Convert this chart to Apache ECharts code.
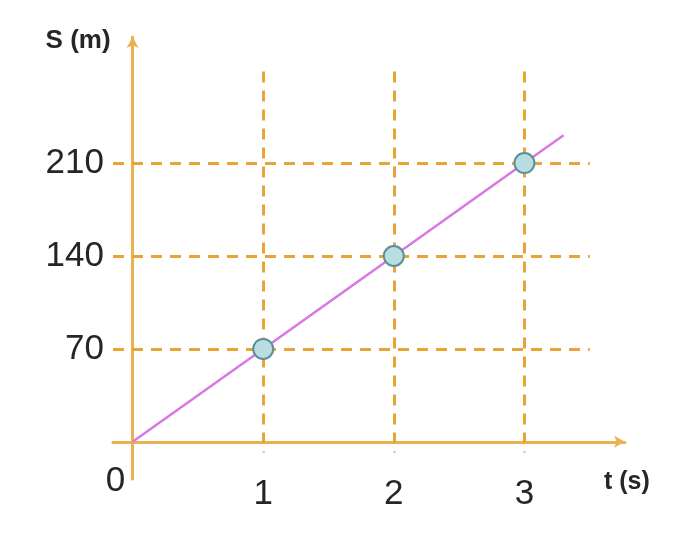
<!DOCTYPE html>
<html>
<head>
<meta charset="utf-8">
<script src="https://cdn.jsdelivr.net/npm/echarts@6/dist/echarts.min.js"></script>
<style>
  html, body { margin: 0; padding: 0; background: #fff; }
  #main { width: 687px; height: 560px; }
</style>
</head>
<body>
<div id="main"></div>
<script>
// data
var times = [1, 2, 3];
var distances = [70, 140, 210];
var lineStart = [0, 0];
var lineEnd = [3.3, 231];
var xTicks = [1, 2, 3];
var yTicks = [70, 140, 210];

var axisColor = '#EAB24F';
var dashColor = '#E8A535';
var textColor = '#262626';
var labelFont = 'Liberation Sans, Arial, sans-serif';

var chart = echarts.init(document.getElementById('main'));

// dashed guide lines through each tick (verticals drawn top-down)
var guides = [];
xTicks.forEach(function (t) {
  guides.push([{ coord: [t, 279] }, { coord: [t, -8] }]);
});
yTicks.forEach(function (s) {
  guides.push([{ coord: [-0.15, s] }, { coord: [3.5, s] }]);
});

var linePts = [lineStart];
times.forEach(function (t, i) { linePts.push([t, distances[i]]); });
linePts.push(lineEnd);

var option = {
  backgroundColor: '#fff',
  animation: false,
  grid: { left: 113, right: 62, top: 37, bottom: 81 },
  xAxis: {
    type: 'value',
    min: -0.15,
    max: 3.77,
    name: 't (s)',
    nameLocation: 'end',
    nameGap: -21,
    nameTextStyle: {
      fontFamily: labelFont, fontSize: 25, fontWeight: 'bold', color: textColor,
      align: 'left', verticalAlign: 'top', padding: [28, 0, 0, 0]
    },
    axisLine: {
      onZero: true,
      symbol: ['none', 'arrow'],
      symbolSize: [9, 11],
      lineStyle: { color: axisColor, width: 3 }
    },
    axisTick: { show: false },
    splitLine: { show: false },
    axisLabel: {
      customValues: xTicks,
      margin: -2,
      fontFamily: labelFont, fontSize: 35, color: textColor
    }
  },
  yAxis: {
    type: 'value',
    min: -28,
    max: 305,
    name: 'S (m)',
    nameLocation: 'end',
    nameGap: -17,
    nameTextStyle: {
      fontFamily: labelFont, fontSize: 26, fontWeight: 'bold', color: textColor,
      align: 'right', verticalAlign: 'bottom', padding: [0, 22, 0, 0]
    },
    axisLine: {
      onZero: true,
      symbol: ['none', 'arrow'],
      symbolSize: [9, 11],
      lineStyle: { color: axisColor, width: 3 }
    },
    axisTick: { show: false },
    splitLine: { show: false },
    axisLabel: {
      customValues: yTicks,
      margin: 9,
      fontFamily: labelFont, fontSize: 35, color: textColor
    }
  },
  series: [
    {
      type: 'line',
      data: [],
      silent: true,
      z: 1,
      markLine: {
        silent: true,
        symbol: ['none', 'none'],
        label: { show: false },
        lineStyle: { color: dashColor, width: 3, type: [11, 8] },
        data: guides
      }
    },
    {
      type: 'line',
      data: linePts,
      showSymbol: false,
      lineStyle: { color: '#D878E2', width: 2.5 },
      z: 3
    },
    {
      type: 'scatter',
      data: times.map(function (t, i) { return [t, distances[i]]; }),
      symbolSize: 20,
      itemStyle: { color: '#B8DEE2', borderColor: '#5F8F96', borderWidth: 2, opacity: 1 },
      z: 5
    },
    {
      type: 'scatter',
      data: [lineStart],
      symbolSize: 0,
      itemStyle: { opacity: 1 },
      label: {
        show: true,
        formatter: '0',
        position: 'inside',
        offset: [-17, 40],
        opacity: 1,
        fontFamily: labelFont, fontSize: 35, color: textColor
      },
      z: 5
    }
  ]
};

chart.setOption(option);
</script>
</body>
</html>
